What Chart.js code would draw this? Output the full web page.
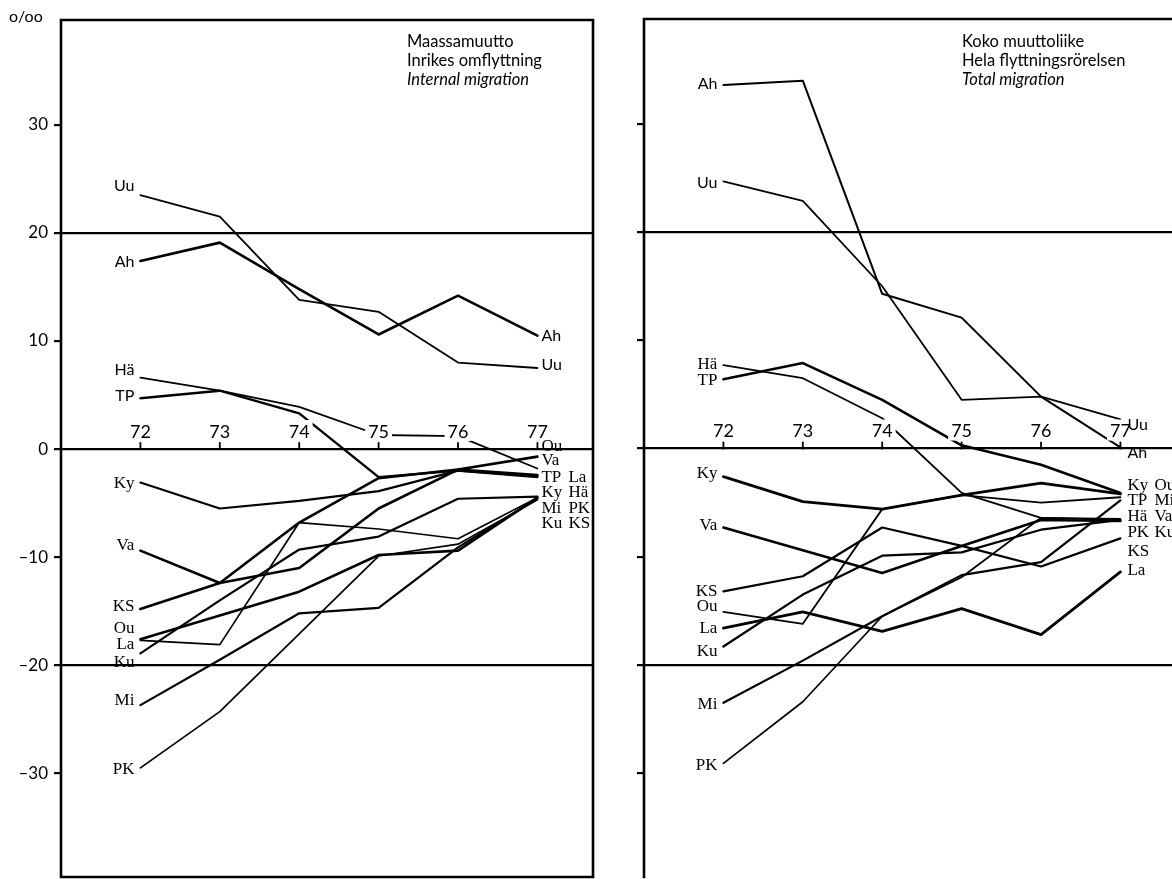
<!DOCTYPE html>
<html><head><meta charset="utf-8">
<script src="https://cdn.jsdelivr.net/npm/chart.js@4.4.0/dist/chart.umd.min.js"></script>
<style>
html,body{margin:0;padding:0;background:#fff;overflow:hidden;width:1172px;height:879px;}
#wrapL{position:absolute;left:0;top:0;width:620px;height:879px;}
#wrapR{position:absolute;left:590px;top:0;width:640px;height:879px;}
canvas{display:block;}
</style></head><body>
<div id="wrapL"><canvas id="cL" width="620" height="879" style="width:620px;height:879px"></canvas></div>
<div id="wrapR"><canvas id="cR" width="640" height="879" style="width:640px;height:879px"></canvas></div>
<script>
// ---- data ----
const years = [72, 73, 74, 75, 76, 77];
const regions = ['Uu', 'Ah', 'Hä', 'TP', 'Ky', 'Va', 'KS', 'Ou', 'La', 'Ku', 'Mi', 'PK'];
const yTicks = [30, 20, 10, 0, -10, -20, -30];

// Internal migration (o/oo)
const intUu = [23.5, 21.5, 13.8, 12.7, 8.0, 7.5];
const intAh = [17.4, 19.1, 14.8, 10.6, 14.2, 10.5];
const intHa = [6.6, 5.4, 3.9, 1.3, 1.2, -1.8];
const intTP = [4.7, 5.4, 3.3, -2.6, -2.0, -2.5];
const intKy = [-3.1, -5.5, -4.8, -3.9, -2.0, -2.6];
const intVa = [-9.4, -12.4, -11.0, -5.5, -1.9, -0.7];
const intKS = [-14.8, -12.4, -6.8, -2.7, -1.9, -2.4];
const intOu = [-17.6, -15.4, -13.2, -9.8, -9.4, -4.5];
const intLa = [-17.7, -18.1, -6.8, -7.4, -8.3, -4.5];
const intKu = [-18.9, -14.0, -9.3, -8.1, -4.6, -4.4];
const intMi = [-23.7, -19.5, -15.2, -14.7, -9.1, -4.6];
const intPK = [-29.5, -24.3, -17.1, -9.9, -8.8, -4.7];

// Total migration (o/oo)
const totAh = [33.6, 34.0, 14.3, 12.1, 4.8, 0.1];
const totUu = [24.7, 22.9, 15.0, 4.5, 4.8, 2.7];
const totHa = [7.7, 6.5, 2.8, -4.1, -6.4, -6.6];
const totTP = [6.4, 7.9, 4.5, 0.3, -1.5, -4.1];
const totKy = [-2.6, -4.9, -5.6, -4.3, -3.2, -4.2];
const totVa = [-7.3, -9.4, -11.5, -9.0, -6.6, -6.7];
const totKS = [-13.2, -11.8, -7.3, -9.0, -10.9, -8.3];
const totOu = [-15.1, -16.2, -5.6, -4.3, -5.0, -4.5];
const totLa = [-16.6, -15.1, -16.9, -14.8, -17.2, -11.4];
const totKu = [-18.3, -13.5, -9.9, -9.6, -7.5, -6.6];
const totMi = [-23.5, -19.6, -15.5, -11.7, -10.5, -4.8];
const totPK = [-29.1, -23.4, -15.5, -11.9, -6.4, -6.5];

const intSeries = [intUu, intAh, intHa, intTP, intKy, intVa, intKS, intOu, intLa, intKu, intMi, intPK];
const totSeries = [totUu, totAh, totHa, totTP, totKy, totVa, totKS, totOu, totLa, totKu, totMi, totPK];

// ---- label placement (annotation text, in data units) ----
const intStartLabelAt = [24.4, 17.3, 7.3, 4.9, -3.2, -8.9, -14.6, -16.6, -18.1, -19.8, -23.3, -29.7];
const totStartLabelAt = [24.6, 33.7, 7.8, 6.3, -2.3, -7.1, -13.2, -14.6, -16.6, -18.8, -23.7, -29.3];
const intEndLabels = [
  ['Ah', 0, 10.5, 1], ['Uu', 0, 7.8, 1],
  ['Ou', 0, 0.2], ['Va', 0, -1.1], ['TP', 0, -2.6], ['Ky', 0, -4.0], ['Mi', 0, -5.5], ['Ku', 0, -6.9],
  ['La', 1, -2.6], ['Hä', 1, -4.0], ['PK', 1, -5.5], ['KS', 1, -6.9]
];
const totEndLabels = [
  ['Uu', 0, 2.2, 1], ['Ah', 0, -0.4, 1],
  ['Ky', 0, -3.4], ['TP', 0, -4.8], ['Hä', 0, -6.3], ['PK', 0, -7.8], ['KS', 0, -9.5], ['La', 0, -11.3],
  ['Ou', 1, -3.4], ['Mi', 1, -4.8], ['Va', 1, -6.3], ['Ku', 1, -7.8]
];
const intTitle = ['Maassamuutto', 'Inrikes omflyttning', 'Internal migration'];
const totTitle = ['Koko muuttoliike', 'Hela flyttningsrörelsen', 'Total migration'];

const intWidths = [1.8, 2.6, 1.8, 2.4, 2.2, 2.6, 2.6, 2.6, 1.7, 2.2, 2.2, 1.7];
const totWidths = [1.8, 2.0, 1.8, 2.6, 2.8, 2.6, 2.2, 1.8, 2.8, 2.2, 2.2, 1.7];

const SANS = 'Lato';
const SERIF = '"Liberation Serif"';
const sansLabels = { int: ['Uu', 'Ah', 'Hä', 'TP'], tot: ['Uu', 'Ah'] };

function panelPlugin(o) {
  return {
    id: 'panel' + o.key,
    afterDatasetsDraw(chart) {
      const ctx = chart.ctx, xs = chart.scales.x, ys = chart.scales.y, a = chart.chartArea;
      ctx.save();
      // frame
      ctx.strokeStyle = '#000'; ctx.lineWidth = 2.6; ctx.lineCap = 'square';
      ctx.beginPath();
      ctx.moveTo(a.left, a.bottom); ctx.lineTo(a.left, a.top); ctx.lineTo(a.right, a.top); ctx.lineTo(a.right, a.bottom);
      if (o.bottomBorder) ctx.lineTo(a.left, a.bottom);
      ctx.stroke();
      // year labels on the zero line
      const y0 = ys.getPixelForValue(0);
      ctx.font = '18px ' + SANS; ctx.textAlign = 'center'; ctx.textBaseline = 'middle';
      years.forEach(yr => {
        const x = xs.getPixelForValue(yr);
        const w = ctx.measureText(String(yr)).width;
        ctx.fillStyle = '#fff'; ctx.fillRect(x - w / 2 - 3, y0 - 29, w + 6, 21);
        ctx.fillStyle = '#000'; ctx.fillText(String(yr), x, y0 - 17);
        ctx.lineWidth = 1.8; ctx.beginPath(); ctx.moveTo(x, y0); ctx.lineTo(x, y0 - 6); ctx.stroke();
      });
      // start labels
      ctx.textAlign = 'right';
      const x72 = xs.getPixelForValue(years[0]);
      regions.forEach((r, i) => {
        ctx.font = (o.sans.includes(r) ? '16px ' + SANS : '17px ' + SERIF);
        ctx.fillStyle = '#000';
        ctx.fillText(r, x72 - 6, ys.getPixelForValue(o.startAt[i]));
      });
      // end labels
      ctx.textAlign = 'left';
      const x77 = xs.getPixelForValue(years[years.length - 1]);
      o.endLabels.forEach(([t, col, v, sans]) => {
        ctx.font = (sans ? '16px ' + SANS : '17px ' + SERIF);
        ctx.fillText(t, x77 + o.endOff + col * 27, ys.getPixelForValue(v));
      });
      // title
      ctx.textBaseline = 'middle'; ctx.textAlign = 'left';
      o.title.forEach((t, i) => {
        ctx.font = (i === 2 ? 'italic ' : '') + '16.5px ' + SANS;
        ctx.fillText(t, a.left + o.titleX, 42 + i * 19);
      });
      if (o.unit) {
        ctx.font = '16px ' + SANS; ctx.textAlign = 'left';
        ctx.fillText(o.unit, 9, 17);
      }
      ctx.restore();
    }
  };
}

function makeChart(id, series, o) {
  return new Chart(document.getElementById(id), {
    type: 'line',
    data: {
      datasets: regions.map((r, i) => ({
        label: r,
        data: years.map((yr, j) => ({ x: yr, y: series[i][j] })),
        borderColor: '#000', borderWidth: o.widths[i], pointRadius: 0, tension: 0,
        fill: false, borderJoinStyle: 'round', borderCapStyle: 'round'
      }))
    },
    options: {
      responsive: false, animation: false, events: [],
      layout: { padding: { left: 0, top: o.top, right: o.padRight, bottom: o.padBottom } },
      plugins: { legend: { display: false }, tooltip: { enabled: false } },
      scales: {
        x: { type: 'linear', min: 71.0, max: 77.7, display: false },
        y: {
          type: 'linear', min: -39.6, max: 39.7,
          afterFit: s => { s.width = o.axisW; s.paddingTop = 0; s.paddingBottom = 0; },
          border: { display: false },
          grid: {
            color: c => (c.tick && [20, 0, -20].includes(c.tick.value)) ? '#000' : 'rgba(0,0,0,0)',
            lineWidth: 2.2, tickColor: '#000', tickLength: 7, tickWidth: 2.2
          },
          afterBuildTicks: s => { s.ticks = yTicks.map(v => ({ value: v })); },
          ticks: {
            display: o.showLabels, color: '#000', padding: 6,
            font: { family: SANS, size: 17 },
            callback: v => (v < 0 ? '\u2013' + Math.abs(v) : String(v))
          }
        }
      }
    },
    plugins: [panelPlugin(o)]
  });
}

makeChart('cL', intSeries, {
  key: 'L', widths: intWidths, top: 20, padRight: 27, padBottom: 2, axisW: 61, showLabels: true,
  startAt: intStartLabelAt, endLabels: intEndLabels, endOff: 4, sans: sansLabels.int,
  title: intTitle, titleX: 346, bottomBorder: true, unit: 'o/oo'
});
makeChart('cR', totSeries, {
  key: 'R', widths: totWidths, top: 19, padRight: 54, padBottom: 2, axisW: 54, showLabels: false,
  startAt: totStartLabelAt, endLabels: totEndLabels, endOff: 7, sans: sansLabels.tot,
  title: totTitle, titleX: 318, bottomBorder: false, unit: null
});
</script>
</body></html>
